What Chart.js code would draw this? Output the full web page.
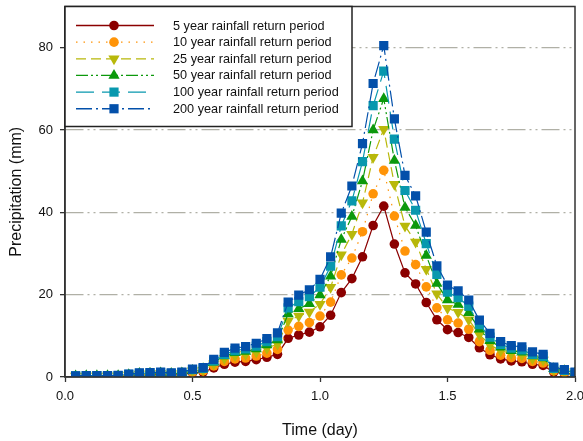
<!DOCTYPE html>
<html>
<head>
<meta charset="utf-8">
<script src="https://cdn.jsdelivr.net/npm/chart.js@4/dist/chart.umd.min.js"></script>
<style>
  html, body { margin: 0; padding: 0; background: #fff; }
  #wrap { width: 583px; height: 441px; }
</style>
</head>
<body>
<div id="wrap"><canvas id="rain-chart" width="583" height="441"></canvas></div>
<script>
// hourly time steps over two days (k/24)
const timeDays = [];
for (let k = 1; k <= 48; k++) timeDays.push(k / 24);

const rain5 = [0.15,0.18,0.18,0.18,0.2,0.35,0.5,0.55,0.6,0.5,0.6,1.0,1.2,2.2,3.1,3.6,3.8,4.2,4.8,5.5,
  9.4,10.2,10.9,12.2,15.0,20.5,23.9,29.2,36.8,41.5,32.3,25.3,22.6,18.1,13.9,11.5,10.8,9.6,7.1,5.4,
  4.4,3.9,3.7,3.1,2.8,1.2,0.9,0.6];
const rain10 = [0.18,0.22,0.22,0.22,0.24,0.42,0.6,0.67,0.73,0.6,0.73,1.2,1.5,2.7,3.8,4.4,4.6,5.1,5.8,6.7,
  11.4,12.3,13.2,14.8,18.2,24.8,28.9,35.3,44.5,50.2,39.1,30.6,27.3,21.9,16.8,13.9,13.1,11.6,8.6,6.5,
  5.3,4.7,4.5,3.8,3.4,1.5,1.1,0.7];
const rain25 = [0.22,0.26,0.26,0.26,0.29,0.51,0.73,0.8,0.87,0.73,0.87,1.5,1.7,3.2,4.5,5.2,5.5,6.1,7.0,8.0,
  13.6,14.8,15.8,17.7,21.8,29.7,34.7,42.3,53.4,60.2,46.8,36.7,32.8,26.2,20.2,16.7,15.7,13.9,10.3,7.8,
  6.4,5.7,5.4,4.5,4.1,1.7,1.3,0.9];
const rain50 = [0.24,0.29,0.29,0.29,0.33,0.57,0.82,0.9,0.98,0.82,0.98,1.6,2.0,3.6,5.1,5.9,6.2,6.8,7.8,9.0,
  15.3,16.6,17.8,19.9,24.5,33.4,39.0,47.6,60.0,67.6,52.6,41.2,36.8,29.5,22.7,18.7,17.6,15.6,11.6,8.8,
  7.2,6.4,6.0,5.1,4.6,2.0,1.5,1.0];
const rain100 = [0.27,0.32,0.32,0.32,0.36,0.63,0.9,1.0,1.1,0.9,1.1,1.8,2.1,3.9,5.5,6.4,6.8,7.5,8.6,9.8,
  16.8,18.3,19.5,21.8,26.9,36.7,42.8,52.3,65.9,74.3,57.8,45.3,40.5,32.4,24.9,20.6,19.3,17.2,12.7,9.7,
  7.9,7.0,6.6,5.5,5.0,2.1,1.6,1.1];
const rain200 = [0.3,0.35,0.35,0.35,0.4,0.7,1.0,1.1,1.2,1.0,1.2,1.9,2.3,4.3,6.0,7.0,7.4,8.2,9.3,10.7,
  18.2,19.9,21.2,23.7,29.2,39.8,46.4,56.7,71.3,80.5,62.7,49.0,44.0,35.2,27.0,22.3,20.9,18.7,13.8,10.6,
  8.6,7.6,7.3,6.1,5.5,2.4,1.8,1.2];

const seriesLabels = [
  '5 year rainfall return period',
  '10 year rainfall return period',
  '25 year rainfall return period',
  '50 year rainfall return period',
  '100 year rainfall return period',
  '200 year rainfall return period'
];
const yTicks = [0, 20, 40, 60, 80];
const xTicks = [0, 0.5, 1.0, 1.5, 2.0];

const FONT = '"Liberation Sans", Arial, sans-serif';

function toPoints(values) {
  return values.map((v, i) => ({ x: timeDays[i], y: v }));
}

const styles = [
  { color: '#8b0000', dash: [], point: 'circle', radius: 4.8, rot: 0 },
  { color: '#ff9408', dash: [1.5, 6], point: 'circle', radius: 4.8, rot: 0 },
  { color: '#b8b80a', dash: [10, 5], point: 'triangle', radius: 6.5, rot: 180 },
  { color: '#0c990c', dash: [12, 3, 2, 3, 2, 3], point: 'triangle', radius: 6.5, rot: 0 },
  { color: '#0898ae', dash: [18, 8], point: 'rect', radius: 6.5, rot: 0 },
  { color: '#0350aa', dash: [16, 4, 2, 4], point: 'rect', radius: 6.5, rot: 0 }
];
const allSeries = [rain5, rain10, rain25, rain50, rain100, rain200];

const datasets = allSeries.map((vals, i) => ({
  label: seriesLabels[i],
  data: toPoints(vals),
  borderColor: styles[i].color,
  backgroundColor: styles[i].color,
  borderWidth: 1.2,
  borderDash: styles[i].dash,
  pointStyle: styles[i].point,
  pointRotation: styles[i].rot,
  pointRadius: styles[i].radius,
  pointBorderWidth: 0,
  pointBackgroundColor: styles[i].color,
  tension: 0,
  order: 6 - i // 200 year on top
}));

// box around the plot area
const framePlugin = {
  id: 'frame',
  afterDraw(chart) {
    const { ctx, chartArea: a } = chart;
    ctx.save();
    ctx.strokeStyle = '#333';
    ctx.lineWidth = 1.5;
    ctx.strokeRect(a.left, a.top, a.right - a.left, a.bottom - a.top);
    ctx.restore();
  }
};

// legend in the top-left corner, line sample + marker per series
const legendBox = {
  id: 'legendBox',
  afterDraw(chart) {
    const { ctx, chartArea: a } = chart;
    const x0 = a.left, y0 = a.top;
    const w = 287, h = 120;
    ctx.save();
    ctx.fillStyle = '#fff';
    ctx.fillRect(x0, y0, w, h);
    ctx.strokeStyle = '#222';
    ctx.lineWidth = 1.5;
    ctx.strokeRect(x0, y0, w, h);
    ctx.font = '12.7px ' + FONT;
    ctx.textBaseline = 'middle';
    seriesLabels.forEach((label, i) => {
      const s = styles[i];
      const y = y0 + 19 + i * 16.65;
      ctx.strokeStyle = s.color;
      ctx.lineWidth = 1.3;
      ctx.setLineDash(s.dash);
      ctx.beginPath();
      ctx.moveTo(x0 + 11, y);
      ctx.lineTo(x0 + 89, y);
      ctx.stroke();
      ctx.setLineDash([]);
      ctx.fillStyle = s.color;
      Chart.helpers.drawPoint(ctx, { pointStyle: s.point, radius: s.radius, rotation: s.rot, borderWidth: 0 }, x0 + 49, y);
      ctx.fillStyle = '#111';
      ctx.fillText(label, x0 + 108, y + 0.5);
    });
    ctx.restore();
  }
};

new Chart(document.getElementById('rain-chart'), {
  type: 'line',
  data: { datasets },
  options: {
    responsive: false,
    animation: false,
    layout: { padding: { top: 5, right: 8, left: 0, bottom: 0 } },
    plugins: {
      legend: { display: false },
      tooltip: { enabled: false }
    },
    scales: {
      x: {
        type: 'linear',
        min: 0,
        max: 2,
        afterBuildTicks: s => { s.ticks = xTicks.map(v => ({ value: v })); },
        afterFit: s => { s.height = 64; s.paddingLeft = 0; s.paddingRight = 0; },
        ticks: {
          callback: v => Number(v).toFixed(1),
          font: { family: FONT, size: 13 },
          color: '#111',
          padding: 7,
          maxRotation: 0
        },
        grid: { drawOnChartArea: false, tickLength: 5, tickColor: '#333', tickWidth: 1.3 },
        border: { color: '#333', width: 1.5 },
        title: {
          display: true,
          text: 'Time (day)',
          font: { family: FONT, size: 16 },
          color: '#111',
          padding: { top: 0, bottom: 1 }
        }
      },
      y: {
        min: 0,
        max: 90,
        afterBuildTicks: s => { s.ticks = yTicks.map(v => ({ value: v })); },
        afterFit: s => { s.width = 65; s.paddingTop = 0; s.paddingBottom = 0; },
        ticks: {
          font: { family: FONT, size: 13 },
          color: '#111',
          padding: 7
        },
        grid: {
          color: c => (c.tick && c.tick.value === 0) ? 'rgba(0,0,0,0)' : '#b0b0a6',
          lineWidth: 1.3,
          tickBorderDash: [],
          tickLength: 5,
          tickColor: '#333',
          tickWidth: 1.3
        },
        border: { color: '#333', width: 1.5, dash: [18, 4, 2, 4, 2, 4] },
        title: {
          display: true,
          text: 'Precipitation (mm)',
          font: { family: FONT, size: 16 },
          color: '#111',
          padding: { top: 7, bottom: 0 }
        }
      }
    }
  },
  plugins: [framePlugin, legendBox]
});
</script>
</body>
</html>
